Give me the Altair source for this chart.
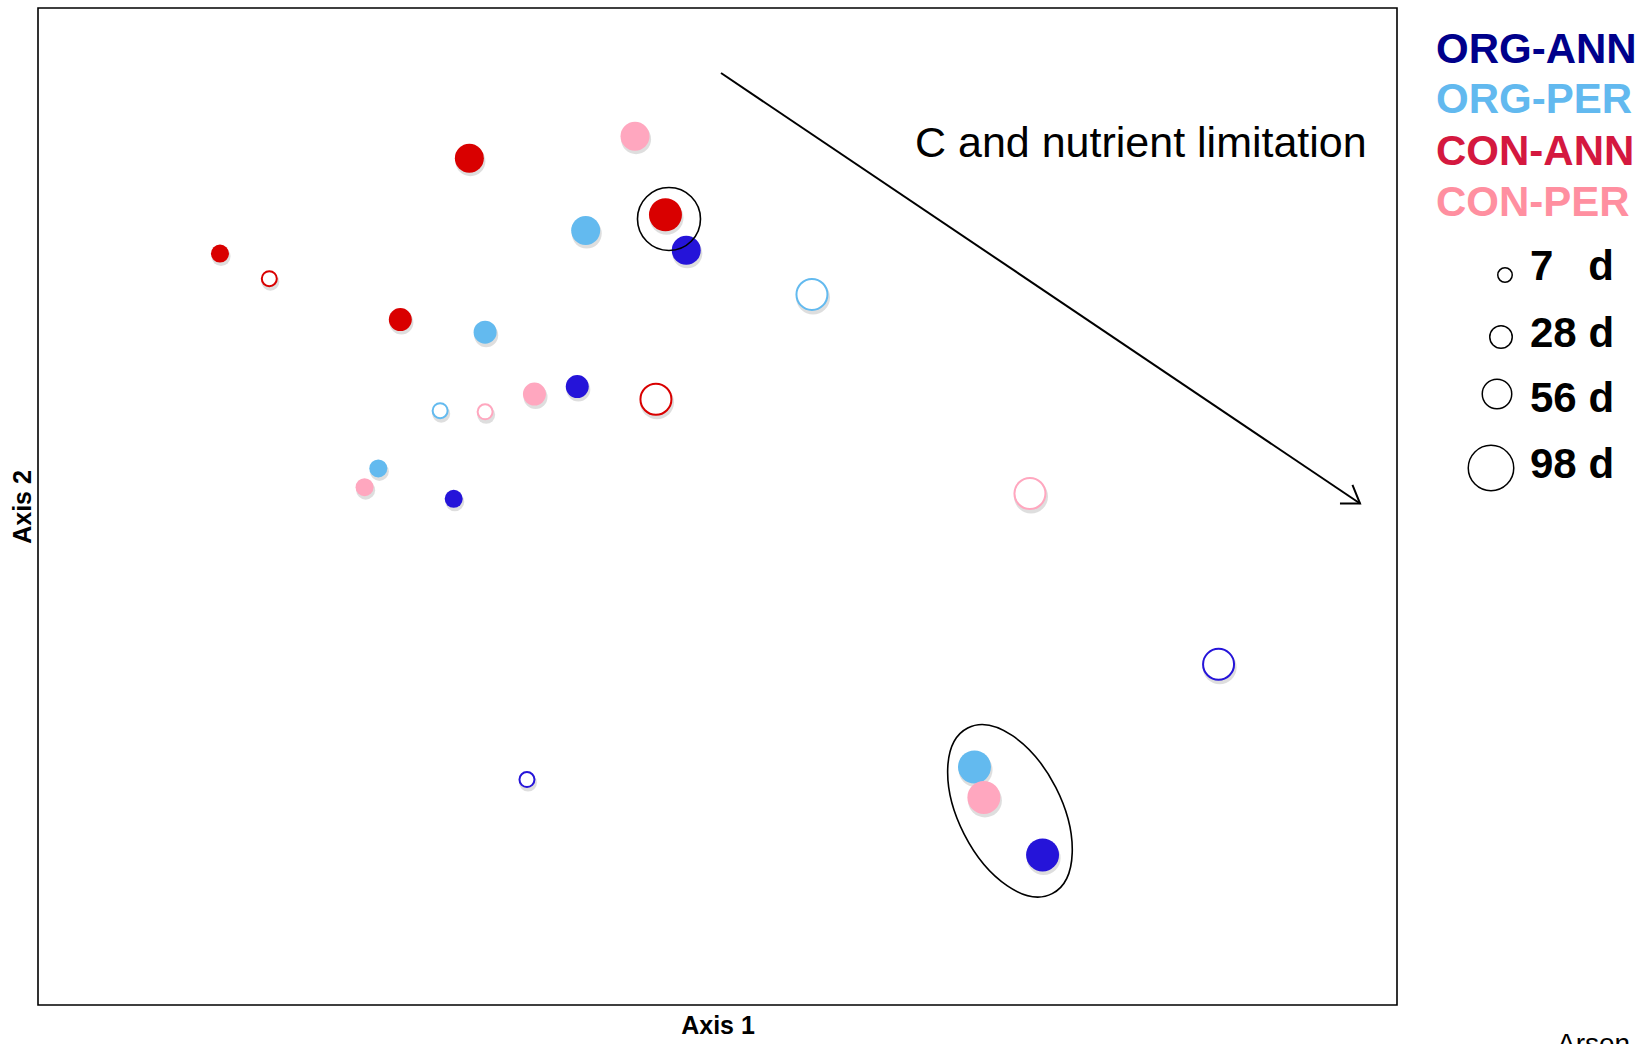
import altair as alt
import pandas as pd

# ---------------- data (ordination scores, arbitrary 0-100 units) ----------------
groups = ["ORG-ANN", "ORG-PER", "CON-ANN", "CON-PER"]
point_colors = ["#2514D9", "#63BAEF", "#D90000", "#FFA7BF"]
label_colors = ["#00008B", "#62B9EF", "#D4183F", "#FF8FA0"]
days = [7, 28, 56, 98]
day_labels = ["7\u00a0\u00a0\u00a0d", "28 d", "56 d", "98 d"]

pt_group = ["CON-PER", "CON-ANN", "CON-ANN", "ORG-PER", "ORG-ANN", "CON-ANN",
            "CON-ANN", "ORG-PER", "CON-ANN", "ORG-PER", "ORG-ANN", "CON-PER",
            "CON-ANN", "ORG-PER", "CON-PER", "ORG-PER", "CON-PER", "ORG-ANN",
            "CON-PER", "ORG-ANN", "ORG-ANN", "ORG-PER", "CON-PER", "ORG-ANN"]
pt_day = [56, 56, 98, 56, 56, 7, 7, 98, 28, 28, 28, 28,
          98, 7, 7, 7, 7, 7, 98, 98, 7, 98, 98, 98]
pt_filled = [1, 1, 1, 1, 1, 1, 0, 0, 1, 1, 1, 1,
             0, 0, 0, 1, 1, 1, 0, 0, 0, 1, 1, 1]
pt_x = [43.93, 31.74, 46.17, 40.30, 47.70, 13.39, 17.02, 56.95, 26.66, 32.90, 39.68, 36.53,
        45.47, 29.59, 32.90, 25.04, 24.03, 30.59, 72.99, 86.87, 35.98, 68.91, 69.60, 73.92]
pt_y = [87.14, 84.94, 79.26, 77.68, 75.69, 75.37, 72.85, 71.27, 68.75, 67.48, 62.03, 61.28,
        60.76, 59.61, 59.50, 53.82, 51.94, 50.77, 51.30, 34.17, 22.61, 23.87, 20.82, 15.05]

# annotations (same units)
circle_x, circle_y = [46.43], [78.84]
ellipse_x, ellipse_y = [71.52], [19.48]
arrow_x, arrow_y, arrow_x2, arrow_y2 = [50.26], [93.48], [97.28], [50.30]
note_x, note_y, note_text = [64.53], [85.06], ["C and nutrient limitation"]

# ---------------- styles ----------------
FONT = "Liberation Sans"
filled_diam = {7: 18, 28: 23, 56: 29, 98: 33}
hollow_diam = {7: 15, 28: 21, 56: 27, 98: 31}

df = pd.DataFrame({"group": pt_group, "day": pt_day, "filled": pt_filled,
                   "x": pt_x, "y": pt_y})
df["sz"] = [(filled_diam[d] if f else hollow_diam[d] + 2) ** 2 for d, f in zip(df.day, df.filled)]
df["hsz"] = [hollow_diam[d] ** 2 for d in df.day]
df["shx"] = df["x"] + 0.08
df["shy"] = df["y"] - 0.30
df["shsz"] = [(filled_diam[d] + 1) ** 2 if f else (hollow_diam[d] + 3) ** 2
              for d, f in zip(df.day, df.filled)]

xs = alt.Scale(domain=[0, 100], nice=False, zero=False)
ys = alt.Scale(domain=[0, 100], nice=False, zero=False)
cscale = alt.Scale(domain=groups, range=point_colors)

x_axis = alt.Axis(title="Axis 1", labels=False, ticks=False, domain=False, grid=False,
                  titleFont=FONT, titleFontSize=25, titleFontWeight="bold",
                  titleColor="black", titlePadding=8)
y_axis = alt.Axis(title="Axis 2", labels=False, ticks=False, domain=False, grid=False,
                  titleFont=FONT, titleFontSize=25, titleFontWeight="bold",
                  titleColor="black", titlePadding=3)


def X(f):
    return alt.X(f, scale=xs, axis=x_axis, title="Axis 1")


def Y(f):
    return alt.Y(f, scale=ys, axis=y_axis, title="Axis 2")


base = alt.Chart(df)

shadow = base.mark_circle(color="#000000", opacity=0.13).encode(
    x=X("shx:Q"), y=Y("shy:Q"), size=alt.Size("shsz:Q", scale=None),
)

filled_pts = base.transform_filter("datum.filled == 1").mark_circle(opacity=1).encode(
    x=X("x:Q"), y=Y("y:Q"),
    color=alt.Color("group:N", scale=cscale, legend=None),
    size=alt.Size("sz:Q", scale=None),
)

hollow_pts = base.transform_filter("datum.filled == 0").mark_point(
    shape="circle", fill="white", fillOpacity=1, opacity=1, strokeWidth=2
).encode(
    x=X("x:Q"), y=Y("y:Q"),
    stroke=alt.Stroke("group:N", scale=cscale, legend=None),
    size=alt.Size("hsz:Q", scale=None),
)

circ = alt.Chart(pd.DataFrame({"x": circle_x, "y": circle_y})).mark_point(
    shape="circle", filled=False, stroke="black", strokeWidth=1.6, size=63 * 63, opacity=1
).encode(x=X("x:Q"), y=Y("y:Q"))

ell = alt.Chart(pd.DataFrame({"x": ellipse_x, "y": ellipse_y})).mark_point(
    shape="M0,-1A0.553,1,0,1,1,0,1A0.553,1,0,1,1,0,-1Z", filled=False, stroke="black",
    strokeWidth=1.6, size=186 * 186, angle=333, opacity=1
).encode(x=X("x:Q"), y=Y("y:Q"))

arrow_df = pd.DataFrame({"x": arrow_x, "y": arrow_y, "x2": arrow_x2, "y2": arrow_y2})
shaft = alt.Chart(arrow_df).mark_rule(color="black", strokeWidth=2).encode(
    x=X("x:Q"), y=Y("y:Q"), x2="x2:Q", y2="y2:Q")
head = alt.Chart(arrow_df).mark_point(
    shape="M-1,-0.67L0,0L-1,0.67", filled=False, stroke="black", strokeWidth=2,
    size=1111, angle=34, opacity=1
).encode(x=X("x2:Q"), y=Y("y2:Q"))

note = alt.Chart(pd.DataFrame({"x": note_x, "y": note_y, "t": note_text})).mark_text(
    align="left", baseline="alphabetic", font=FONT, fontSize=43, color="black"
).encode(x=X("x:Q"), y=Y("y:Q"), text="t:N")

# ---------------- legends (pixel positions relative to plot area) ----------------
one = pd.DataFrame({"a": [0]})
legend_layers = []
grp_label_y = [55, 105, 157, 208]
for g, c, yy in zip(groups, label_colors, grp_label_y):
    legend_layers.append(alt.Chart(one).mark_text(
        text=g, align="left", baseline="alphabetic", font=FONT, fontSize=42,
        fontWeight="bold", color=c).encode(x=alt.value(1398), y=alt.value(yy)))

size_circ_x = [1467, 1463, 1459, 1453]
size_circ_y = [267, 329, 386, 460]
size_circ_s = [210, 506, 870, 2070]
size_text_y = [272, 339, 404, 470]
for lab, cx, cy, s, ty in zip(day_labels, size_circ_x, size_circ_y, size_circ_s, size_text_y):
    legend_layers.append(alt.Chart(one).mark_point(
        shape="circle", filled=False, stroke="black", strokeWidth=1.5, size=s, opacity=1
    ).encode(x=alt.value(cx), y=alt.value(cy)))
    legend_layers.append(alt.Chart(one).mark_text(
        text=lab, align="left", baseline="alphabetic", font=FONT, fontSize=42,
        fontWeight="bold", color="black").encode(x=alt.value(1492), y=alt.value(ty)))

legend_layers.append(alt.Chart(one).mark_text(
    text="Arsen", align="left", baseline="alphabetic", font=FONT, fontSize=28,
    color="black").encode(x=alt.value(1519), y=alt.value(1045)))

chart = alt.layer(
    shadow, filled_pts, hollow_pts, circ, ell, shaft, head, note, *legend_layers
).properties(
    width=1359, height=997,
    autosize=alt.AutoSizeParams(type="none"),
    padding={"left": 38, "top": 8, "right": 246, "bottom": 39},
    background="white",
).configure_view(stroke="black", strokeWidth=1.6)

chart.save("out.html", embed_options={"renderer": "svg", "actions": False})
